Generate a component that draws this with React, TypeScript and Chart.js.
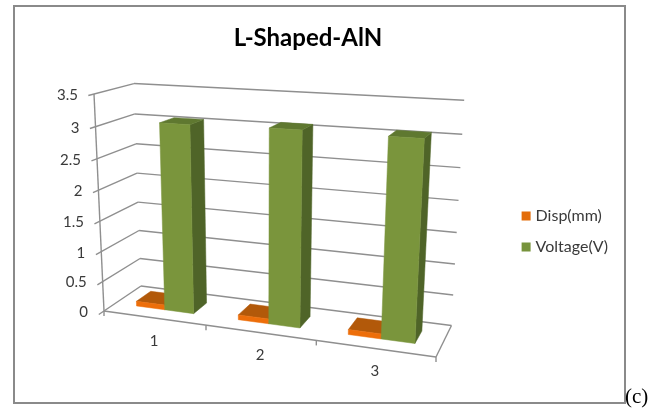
import { useEffect, useRef } from "react";
import { Chart, registerables } from "chart.js";

Chart.register(...registerables);

const categories = ["1", "2", "3"];
const dispMm = [0.08, 0.08, 0.08];
const voltageV = [3.05, 3.08, 3.07];

const FONT = "Lato, 'Open Sans', sans-serif";
const GRID = "#8f8f8f";
const TEXT = "#3a3a3a";

// Shades for each series: front face, side face, top face.
const dispShades = { front: "#ED6E0A", side: "#A9530A", top: "#B2590A" };
const voltShades = { front: "#7A953C", side: "#4F6428", top: "#5F7830" };

// Corners of the 3D plot box and the perspective weights of its three axes.
const O = [104, 311];
const X = [436, 357];
const Y = [94, 94];
const Z = [141, 286];
const WX = -0.113;
const WY = -0.06;
const WZ = 0.075;
const BAR_NEAR = 0.3;
const BAR_FAR = 0.7;

function project(u: number, v: number, d: number): [number, number] {
  const w = 1 + WX * u + WY * v + WZ * d;
  const at = (i: number) =>
    O[i] +
    u * (X[i] * (1 + WX) - O[i]) +
    v * (Y[i] * (1 + WY) - O[i]) +
    d * (Z[i] * (1 + WZ) - O[i]);
  return [at(0) / w, at(1) / w];
}

function line(ctx: CanvasRenderingContext2D, a: [number, number], b: [number, number]) {
  ctx.beginPath();
  ctx.moveTo(a[0], a[1]);
  ctx.lineTo(b[0], b[1]);
  ctx.stroke();
}

function face(ctx: CanvasRenderingContext2D, pts: [number, number][], color: string) {
  ctx.beginPath();
  pts.forEach((p, i) => (i ? ctx.lineTo(p[0], p[1]) : ctx.moveTo(p[0], p[1])));
  ctx.closePath();
  ctx.fillStyle = color;
  ctx.strokeStyle = color;
  ctx.lineWidth = 0.5;
  ctx.fill();
  ctx.stroke();
}

// Draws walls, axes and bars in perspective, reading every position from the chart's scales.
const perspectivePlugin = {
  id: "perspective",
  beforeDatasetsDraw(chart: any) {
    const { ctx } = chart;
    const xs = chart.scales.x;
    const ys = chart.scales.y;
    const toU = (px: number) => (px - xs.left) / xs.width;
    const toV = (px: number) => (ys.bottom - px) / ys.height;

    ctx.save();
    ctx.strokeStyle = GRID;
    ctx.lineWidth = 1.4;

    ys.ticks.forEach((tick: any) => {
      const v = toV(ys.getPixelForValue(tick.value));
      line(ctx, project(0, v, -0.13), project(0, v, 1));
      line(ctx, project(0, v, 1), project(1, v, 1));
      const [lx, ly] = project(0, v, 0);
      ctx.fillStyle = TEXT;
      ctx.font = `15px ${FONT}`;
      ctx.textAlign = "right";
      ctx.textBaseline = "middle";
      ctx.fillText(String(tick.value), lx - 16, ly + 1);
    });

    line(ctx, project(0, 0, 0), project(0, 1, 0));
    line(ctx, project(0, 0, 0), project(1, 0, 0));
    line(ctx, project(1, 0, 0), project(1, 0, 1));

    categories.forEach((label, i) => {
      const mid = toU(xs.getPixelForValue(i));
      const [lx, ly] = project(mid, 0, 0);
      ctx.fillStyle = TEXT;
      ctx.font = `15px ${FONT}`;
      ctx.textAlign = "center";
      ctx.textBaseline = "middle";
      ctx.fillText(label, lx, ly + 23);
    });
    for (let i = 0; i <= categories.length; i++) {
      const u = toU(xs.left + (xs.width * i) / categories.length);
      const [tx, ty] = project(u, 0, 0);
      line(ctx, [tx, ty], [tx, ty + 5]);
    }

    const shades = [dispShades, voltShades];
    categories.forEach((_, i) => {
      [0, 1].forEach((ds) => {
        const bar = chart.getDatasetMeta(ds).data[i];
        const u0 = toU(bar.x - bar.width / 2);
        const u1 = toU(bar.x + bar.width / 2);
        const v0 = toV(bar.base);
        const v1 = toV(bar.y);
        const s = shades[ds];
        face(ctx, [project(u1, v0, BAR_NEAR), project(u1, v0, BAR_FAR), project(u1, v1, BAR_FAR), project(u1, v1, BAR_NEAR)], s.side);
        face(ctx, [project(u0, v1, BAR_NEAR), project(u1, v1, BAR_NEAR), project(u1, v1, BAR_FAR), project(u0, v1, BAR_FAR)], s.top);
        face(ctx, [project(u0, v0, BAR_NEAR), project(u1, v0, BAR_NEAR), project(u1, v1, BAR_NEAR), project(u0, v1, BAR_NEAR)], s.front);
      });
    });
    ctx.restore();
    return false;
  },
};

export default function App() {
  const ref = useRef<HTMLCanvasElement>(null);

  useEffect(() => {
    const chart = new Chart(ref.current!, {
      type: "bar",
      data: {
        labels: categories,
        datasets: [
          { label: "Disp(mm)", data: dispMm, backgroundColor: "#E36C09", borderColor: "#E36C09", borderWidth: 6 },
          { label: "Voltage(V)", data: voltageV, backgroundColor: "#77933C", borderColor: "#77933C", borderWidth: 6 },
        ],
      },
      options: {
        responsive: false,
        animation: false,
        layout: { padding: { left: -2, right: 43, top: 0, bottom: 7 } },
        datasets: { bar: { categoryPercentage: 0.57, barPercentage: 1 } },
        scales: {
          x: { display: false },
          y: { display: false, min: 0, max: 3.5, ticks: { stepSize: 0.5 } },
        },
        plugins: {
          tooltip: { enabled: false },
          title: {
            display: true,
            text: "L-Shaped-AlN",
            color: "#000000",
            font: { family: FONT, size: 24, weight: "bold" },
            padding: { top: 24, bottom: 0 },
          },
          legend: {
            position: "right",
            fullSize: false,
            labels: {
              boxWidth: 3,
              boxHeight: 3,
              padding: 15,
              color: TEXT,
              font: { family: FONT, size: 16 },
            },
          },
        },
      } as any,
      plugins: [perspectivePlugin],
    });
    return () => chart.destroy();
  }, []);

  return (
    <div style={{ position: "fixed", left: 0, top: 0, width: 661, height: 417, background: "#fff", overflow: "hidden" }}>
      <canvas ref={ref} width={661} height={417} style={{ display: "block" }} />
      <div style={{ position: "absolute", left: 13, top: 5, width: 609, height: 395, border: "2px solid #8a8a8a" }} />
      <span style={{ position: "absolute", left: 625, top: 384, font: "21px 'Liberation Serif', serif", color: "#000" }}>(c)</span>
    </div>
  );
}
